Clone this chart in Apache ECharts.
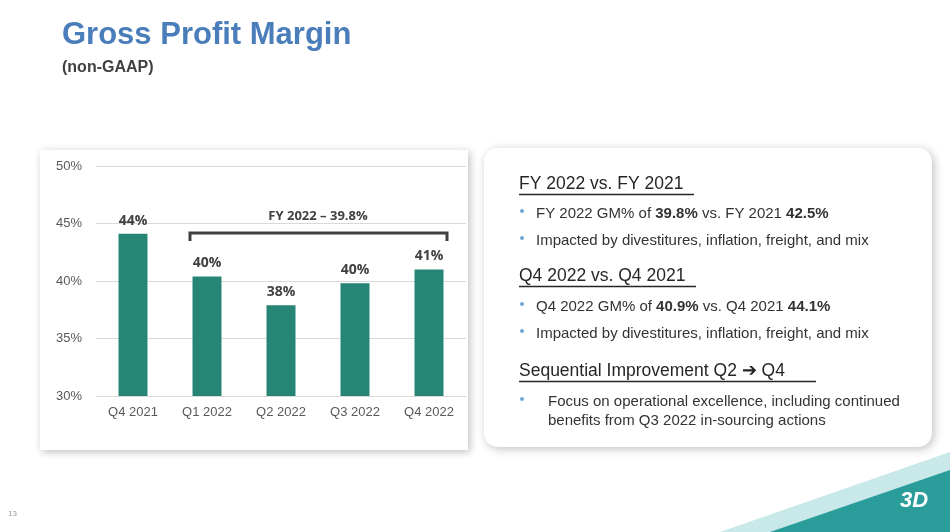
<!DOCTYPE html>
<html><head><meta charset="utf-8">
<script src="https://cdn.jsdelivr.net/npm/echarts@6/dist/echarts.min.js"></script>
<style>html,body{margin:0;padding:0;background:#fff}#c{width:950px;height:532px}</style>
</head><body><div id="c"></div>
<script>
const categories = ['Q4 2021', 'Q1 2022', 'Q2 2022', 'Q3 2022', 'Q4 2022'];
const margins = [44.1, 40.4, 37.9, 39.8, 41.0];
const barLabels = ['44%', '40%', '38%', '40%', '41%'];
const yTicks = [30, 35, 40, 45, 50];

const chart = echarts.init(document.getElementById('c'));
const font = 'Arial, "Liberation Sans", sans-serif';
const bold = { b: { fontWeight: 'bold', fontSize: 15, fontFamily: font, color: '#333' } };

function heading(txt, y, w) {
  return [
    { type: 'text', left: 519, top: y, style: { text: txt, fill: '#262626', font: '17.5px ' + font } },
    { type: 'line', shape: { x1: 519, y1: y + 19.5, x2: 519 + w, y2: y + 19.5 }, style: { stroke: '#262626', lineWidth: 1.3 } }
  ];
}
function bullet(txt, y, x) {
  return [
    { type: 'circle', shape: { cx: 522, cy: y + 7, r: 2 }, style: { fill: '#6fa6d6' } },
    { type: 'text', left: x || 536, top: y, style: { text: txt, rich: bold, fill: '#333', font: '15px ' + font, lineHeight: 19 } }
  ];
}

const option = {
  animation: false,
  grid: { left: 96, right: 484, top: 166, bottom: 136 },
  xAxis: {
    type: 'category', data: categories,
    axisLine: { lineStyle: { color: '#d9d9d9' } },
    axisTick: { show: false },
    axisLabel: { color: '#595959', fontSize: 13, fontFamily: font, margin: 10 }
  },
  yAxis: {
    type: 'value', min: yTicks[0], max: yTicks[yTicks.length - 1], interval: 5,
    axisLabel: { formatter: '{value}%', color: '#595959', fontSize: 13, fontFamily: font, margin: 14 },
    splitLine: { lineStyle: { color: '#d9d9d9' } }
  },
  series: [{
    type: 'bar', data: margins, barWidth: 29,
    itemStyle: { color: '#268574' },
    label: {
      show: true, position: 'top', distance: 6,
      formatter: p => barLabels[p.dataIndex],
      fontWeight: 'bold', fontSize: 14, color: '#404040', fontFamily: '"Open Sans", sans-serif'
    }
  }],
  graphic: [
    { type: 'rect', z: -10, shape: { x: 40, y: 150, width: 428, height: 300 },
      style: { fill: '#fff', shadowBlur: 8, shadowColor: 'rgba(0,0,0,0.25)', shadowOffsetX: 2, shadowOffsetY: 2 } },
    { type: 'rect', z: -10, shape: { x: 484, y: 148, width: 448, height: 299, r: 14 },
      style: { fill: '#fff', shadowBlur: 10, shadowColor: 'rgba(0,0,0,0.25)', shadowOffsetX: 2, shadowOffsetY: 2 } },
    { type: 'text', left: 62, top: 20,
      style: { text: 'Gross Profit Margin', fill: '#4a7ebb', font: 'bold 31px ' + font } },
    { type: 'text', left: 62, top: 60,
      style: { text: '(non-GAAP)', fill: '#404040', font: 'bold 16px ' + font } },
    { type: 'polyline', shape: { points: [[190, 241], [190, 233], [447, 233], [447, 241]] },
      style: { stroke: '#404040', lineWidth: 3, fill: null } },
    { type: 'text', x: 318, y: 216,
      style: { text: 'FY 2022 – 39.8%', fill: '#404040', font: 'bold 13px "Open Sans", sans-serif', align: 'center', verticalAlign: 'middle' } },
    ...heading('FY 2022 vs. FY 2021', 175, 175),
    ...bullet('FY 2022 GM% of {b|39.8%} vs. FY 2021 {b|42.5%}', 204),
    ...bullet('Impacted by divestitures, inflation, freight, and mix', 231),
    ...heading('Q4 2022 vs. Q4 2021', 267, 177),
    ...bullet('Q4 2022 GM% of {b|40.9%} vs. Q4 2021 {b|44.1%}', 297),
    ...bullet('Impacted by divestitures, inflation, freight, and mix', 324),
    ...heading('Sequential Improvement Q2 \u2794 Q4', 362, 297),
    ...bullet('Focus on operational excellence, including continued\nbenefits from Q3 2022 in-sourcing actions', 392, 548),
    { type: 'polygon', shape: { points: [[720, 532], [950, 452], [950, 532]] }, style: { fill: '#c9e8ea' } },
    { type: 'polygon', shape: { points: [[770, 532], [950, 470], [950, 532]] }, style: { fill: '#2a9d9b' } },
    { type: 'text', left: 900, top: 490,
      style: { text: '3D', fill: '#fff', font: 'bold italic 22px ' + font } },
    { type: 'text', left: 8, top: 510,
      style: { text: '13', fill: '#999', font: '8px ' + font } }
  ]
};
chart.setOption(option);
</script></body></html>
